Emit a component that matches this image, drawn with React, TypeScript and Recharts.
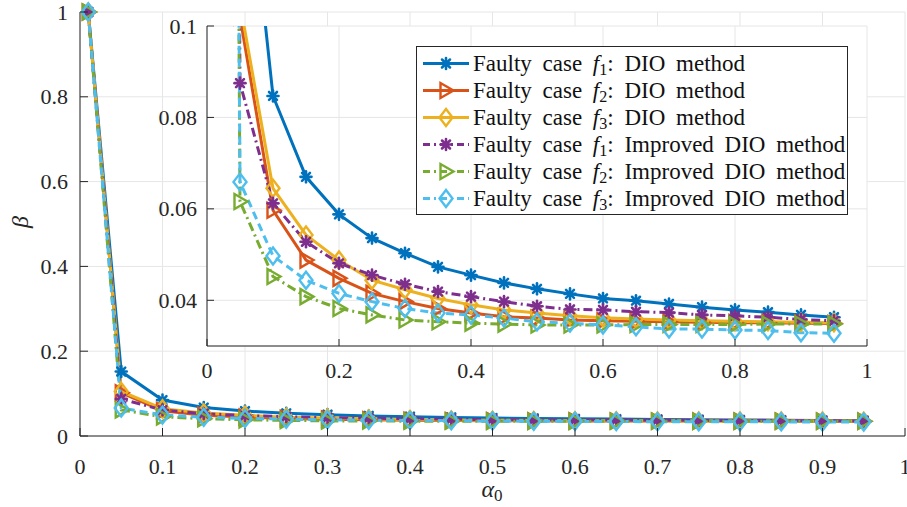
import React from "react";
import { LineChart, Line, XAxis, YAxis, CartesianGrid } from "recharts";

// alpha_0 values (x)
const alpha = [0.01, 0.05, 0.1, 0.15, 0.2, 0.25, 0.3, 0.35, 0.4, 0.45, 0.5, 0.55, 0.6, 0.65, 0.7, 0.75, 0.8, 0.85, 0.9, 0.95];

// beta values
const f1Dio = [1, 0.152, 0.0847, 0.067, 0.0588, 0.0536, 0.0503, 0.0473, 0.0455, 0.0438, 0.0425, 0.0414, 0.0404, 0.0399, 0.0392, 0.0385, 0.0379, 0.0374, 0.0368, 0.0363];
const f2Dio = [1, 0.102, 0.0597, 0.0488, 0.0448, 0.0415, 0.0397, 0.0382, 0.0372, 0.0364, 0.0361, 0.0357, 0.0355, 0.0354, 0.0353, 0.0352, 0.0351, 0.0351, 0.035, 0.0349];
const f3Dio = [1, 0.105, 0.0645, 0.0543, 0.0488, 0.0444, 0.0423, 0.0404, 0.039, 0.0379, 0.0372, 0.0366, 0.0362, 0.0359, 0.0357, 0.0355, 0.0354, 0.0353, 0.0352, 0.0351];
const f1Imp = [1, 0.0875, 0.0612, 0.0528, 0.0481, 0.0455, 0.0435, 0.0419, 0.0408, 0.0397, 0.0387, 0.038, 0.0379, 0.0375, 0.0373, 0.0368, 0.0366, 0.0363, 0.0358, 0.0355];
const f2Imp = [1, 0.0616, 0.0452, 0.0408, 0.0382, 0.0368, 0.0357, 0.0353, 0.035, 0.0348, 0.0346, 0.0346, 0.0346, 0.0347, 0.0347, 0.0347, 0.0347, 0.0348, 0.0348, 0.0348];
const f3Imp = [1, 0.0659, 0.0497, 0.0444, 0.0415, 0.0397, 0.0382, 0.0372, 0.0368, 0.0361, 0.0353, 0.035, 0.0346, 0.0342, 0.0337, 0.0337, 0.0335, 0.0334, 0.0329, 0.0328];

const mainXTicks = [0, 0.1, 0.2, 0.3, 0.4, 0.5, 0.6, 0.7, 0.8, 0.9, 1];
const mainYTicks = [0, 0.2, 0.4, 0.6, 0.8, 1];
const insetXTicks = [0, 0.2, 0.4, 0.6, 0.8, 1];
const insetYTicks = [0.04, 0.06, 0.08, 0.1];

const rows = alpha.map((a, i) => ({
  alpha: a,
  f1Dio: f1Dio[i],
  f2Dio: f2Dio[i],
  f3Dio: f3Dio[i],
  f1Imp: f1Imp[i],
  f2Imp: f2Imp[i],
  f3Imp: f3Imp[i],
}));

type MarkerKind = "star" | "tri" | "diamond";

const series: { key: string; color: string; dash?: string; marker: MarkerKind; f: string; method: string }[] = [
  { key: "f1Dio", color: "#0072BD", marker: "star", f: "1", method: "DIO method" },
  { key: "f2Dio", color: "#D95319", marker: "tri", f: "2", method: "DIO method" },
  { key: "f3Dio", color: "#EDB120", marker: "diamond", f: "3", method: "DIO method" },
  { key: "f1Imp", color: "#7E2F8E", dash: "9 4 2 4", marker: "star", f: "1", method: "Improved DIO method" },
  { key: "f2Imp", color: "#77AC30", dash: "9 4 2 4", marker: "tri", f: "2", method: "Improved DIO method" },
  { key: "f3Imp", color: "#4DBEEE", dash: "8 5", marker: "diamond", f: "3", method: "Improved DIO method" },
];

const FONT = "'Liberation Serif', Tinos, 'DejaVu Serif', serif";
const AXIS = "#262626";
const GRID = "#e6e6e6";
const TICK_FS = 22;

function Marker({ kind, cx, cy, color }: { kind: MarkerKind; cx: number; cy: number; color: string }) {
  if (kind === "star") {
    const r = 5.5;
    const d = r * 0.72;
    return (
      <g stroke={color} strokeWidth={2.6} strokeLinecap="round">
        <circle cx={cx} cy={cy} r={3.2} fill={color} stroke="none" />
        <line x1={cx - r} y1={cy} x2={cx + r} y2={cy} />
        <line x1={cx} y1={cy - r} x2={cx} y2={cy + r} />
        <line x1={cx - d} y1={cy - d} x2={cx + d} y2={cy + d} />
        <line x1={cx - d} y1={cy + d} x2={cx + d} y2={cy - d} />
      </g>
    );
  }
  if (kind === "tri") {
    const pts = `${cx + 7.5},${cy} ${cx - 5.5},${cy - 7.5} ${cx - 5.5},${cy + 7.5}`;
    return <polygon points={pts} fill="none" stroke={color} strokeWidth={2.4} />;
  }
  const pts = `${cx},${cy - 8.5} ${cx + 6.5},${cy} ${cx},${cy + 8.5} ${cx - 6.5},${cy}`;
  return <polygon points={pts} fill="none" stroke={color} strokeWidth={2.4} />;
}

function makeDot(kind: MarkerKind, color: string) {
  return (p: any) => {
    const { cx, cy, index } = p;
    if (cx == null || cy == null) return <g key={`d-${index}`} />;
    return (
      <g key={`d-${index}`}>
        <Marker kind={kind} cx={cx} cy={cy} color={color} />
      </g>
    );
  };
}

const fmt = (v: number) => String(v);

function BottomTick(props: any) {
  const { x, y, payload, len, dy, label } = props;
  return (
    <g>
      <line x1={x} y1={y} x2={x} y2={y - len} stroke={AXIS} strokeWidth={1} />
      {label && (
        <text x={x} y={y + dy} textAnchor="middle" dominantBaseline="central" style={{ fontFamily: FONT }} fontSize={TICK_FS} fill={AXIS}>
          {fmt(payload.value)}
        </text>
      )}
    </g>
  );
}

function TopTick(props: any) {
  const { x, y, len } = props;
  return <line x1={x} y1={y} x2={x} y2={y + len} stroke={AXIS} strokeWidth={1} />;
}

function LeftTick(props: any) {
  const { x, y, payload, len, dx } = props;
  return (
    <g>
      <line x1={x} y1={y} x2={x + len} y2={y} stroke={AXIS} strokeWidth={1} />
      <text x={x - dx} y={y} textAnchor="end" dominantBaseline="central" style={{ fontFamily: FONT }} fontSize={TICK_FS} fill={AXIS}>
        {fmt(payload.value)}
      </text>
    </g>
  );
}

function RightTick(props: any) {
  const { x, y, len } = props;
  return <line x1={x} y1={y} x2={x - len} y2={y} stroke={AXIS} strokeWidth={1} />;
}

function renderLines() {
  return series.map((s) => (
    <Line
      key={s.key}
      type="linear"
      dataKey={s.key}
      stroke={s.color}
      strokeWidth={3}
      strokeDasharray={s.dash}
      dot={makeDot(s.marker, s.color)}
      activeDot={false}
      isAnimationActive={false}
    />
  ));
}

function LegendBox() {
  return (
    <div
      style={{
        position: "absolute",
        left: 416,
        top: 46,
        width: 432,
        height: 169,
        border: `1px solid ${AXIS}`,
        background: "#fff",
        boxSizing: "border-box",
        paddingTop: 3,
      }}
    >
      {series.map((s) => (
        <div key={s.key} style={{ display: "flex", alignItems: "center", height: 27 }}>
          <svg width={56} height={27} style={{ flex: "none" }}>
            <line x1={6} y1={13.5} x2={52} y2={13.5} stroke={s.color} strokeWidth={3} strokeDasharray={s.dash ? "7 4 2 4" : undefined} />
            <Marker kind={s.marker} cx={29} cy={13.5} color={s.color} />
          </svg>
          <span style={{ fontFamily: FONT, fontSize: 23, color: "#111", whiteSpace: "nowrap", wordSpacing: 5 }}>
            Faulty case <i>f</i>
            <sub style={{ fontSize: "0.7em", verticalAlign: "-0.25em", lineHeight: 0 }}>{s.f}</sub>: {s.method}
          </span>
        </div>
      ))}
    </div>
  );
}

export default function App() {
  return (
    <div style={{ position: "absolute", left: 0, top: 0, width: 907, height: 507, background: "#fff", overflow: "hidden", fontFamily: FONT }}>
      <LineChart width={907} height={507} data={rows} margin={{ top: 12, right: 2, bottom: 41, left: 0 }}>
        <CartesianGrid stroke={GRID} />
        <XAxis
          dataKey="alpha"
          type="number"
          domain={[0, 1]}
          ticks={mainXTicks}
          interval={0}
          height={30}
          tickSize={0}
          tickMargin={0}
          tickLine={false}
          axisLine={{ stroke: AXIS }}
          tick={(p: any) => <BottomTick {...p} len={8} dy={30} label />}
        />
        <XAxis
          xAxisId="top"
          orientation="top"
          type="number"
          domain={[0, 1]}
          ticks={mainXTicks}
          interval={0}
          height={0}
          tickSize={0}
          tickMargin={0}
          tickLine={false}
          axisLine={{ stroke: AXIS }}
          tick={(p: any) => <TopTick {...p} len={8} />}
        />
        <YAxis
          type="number"
          domain={[0, 1]}
          ticks={mainYTicks}
          interval={0}
          width={80}
          tickSize={0}
          tickMargin={0}
          tickLine={false}
          axisLine={{ stroke: AXIS }}
          tick={(p: any) => <LeftTick {...p} len={8} dx={12} />}
        />
        {renderLines()}
      </LineChart>

      <div style={{ position: "absolute", left: 120, top: 0 }}>
        <LineChart width={780} height={390} data={rows} margin={{ top: 26, right: 33, bottom: 14, left: 0 }}>
          <CartesianGrid stroke={GRID} fill="#fff" fillOpacity={1} />
          <XAxis
            dataKey="alpha"
            type="number"
            domain={[0, 1]}
            ticks={insetXTicks}
            interval={0}
            height={30}
            tickSize={0}
            tickMargin={0}
            tickLine={false}
            allowDataOverflow
            axisLine={{ stroke: AXIS }}
            tick={(p: any) => <BottomTick {...p} len={7} dy={24} label />}
          />
          <XAxis
            xAxisId="top"
            orientation="top"
            type="number"
            domain={[0, 1]}
            ticks={insetXTicks}
            interval={0}
            height={0}
            tickSize={0}
            tickMargin={0}
            tickLine={false}
            axisLine={{ stroke: AXIS }}
            tick={(p: any) => <TopTick {...p} len={7} />}
          />
          <YAxis
            type="number"
            domain={[0.03, 0.1]}
            ticks={insetYTicks}
            interval={0}
            width={87}
            tickSize={0}
            tickMargin={0}
            tickLine={false}
            allowDataOverflow
            axisLine={{ stroke: AXIS }}
            tick={(p: any) => <LeftTick {...p} len={7} dx={10} />}
          />
          <YAxis
            yAxisId="right"
            orientation="right"
            type="number"
            domain={[0.03, 0.1]}
            ticks={insetYTicks}
            interval={0}
            width={0}
            tickSize={0}
            tickMargin={0}
            tickLine={false}
            axisLine={{ stroke: AXIS }}
            tick={(p: any) => <RightTick {...p} len={7} />}
          />
          {renderLines()}
        </LineChart>
      </div>

      <LegendBox />

      <div
        style={{
          position: "absolute",
          left: 20,
          top: 222,
          transform: "translate(-50%, -50%) rotate(-90deg)",
          fontSize: 24,
          fontStyle: "italic",
          color: AXIS,
          lineHeight: 1,
        }}
      >
        β
      </div>
      <div
        style={{
          position: "absolute",
          left: 492,
          top: 489,
          transform: "translate(-50%, -50%)",
          fontSize: 24,
          color: AXIS,
          lineHeight: "30px",
          height: 30,
          whiteSpace: "nowrap",
        }}
      >
        <i>α</i>
        <span style={{ fontSize: 17, position: "relative", top: 4 }}>0</span>
      </div>
    </div>
  );
}
